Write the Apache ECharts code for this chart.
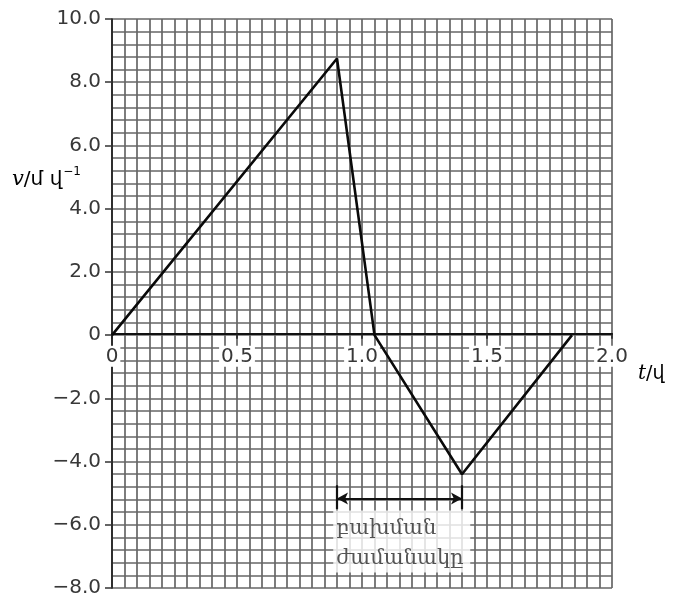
<!DOCTYPE html>
<html>
<head>
<meta charset="utf-8">
<script src="https://cdn.jsdelivr.net/npm/echarts@6/dist/echarts.min.js"></script>
<style>
html,body{margin:0;padding:0;background:#fff;}
#chart{width:681px;height:598px;}
</style>
</head>
<body>
<div id="chart"></div>
<script>
// Data
const tValues = [0, 0.9, 1.05, 1.4, 1.84];          // t / s
const vValues = [0, 8.75, 0, -4.4, 0];              // v / m s^-1
const xTickValues = [0, 0.5, 1.0, 1.5, 2.0];
const xTickLabels = ['0', '0.5', '1.0', '1.5', '2.0'];
const yTickValues = [10, 8, 6, 4, 2, 0, -2, -4, -6, -8];
const yTickLabels = ['10.0', '8.0', '6.0', '4.0', '2.0', '0', '\u22122.0', '\u22124.0', '\u22126.0', '\u22128.0'];
const intervalStart = [0.9];   // collision interval arrow
const intervalEnd = [1.4];
const arrowLevel = [-5.17];
const barTop = [-4.75];
const barBottom = [-5.5];
const noteAnchor = [0.885, -5.55];
const noteLines = ['\u0562\u0561\u056D\u0574\u0561\u0576', '\u056A\u0561\u0574\u0561\u0576\u0561\u056F\u0568']; // բախման / ժամանակը
const yName = ['v', '/\u0574 \u057E', '\u22121'];   // v/մ վ⁻¹
const xName = ['t', '/\u057E'];                      // t/վ

const gridColor = '#666';
const labelColor = '#383838';

const W = 681, H = 598;
const gridTop = 19, gridBottom = 7;
const yMin = -8, yMax = 10;
const plotH = H - gridTop - gridBottom;
const xAxisOffset = -plotH * (0 - yMin) / (yMax - yMin);

function lookup(vals, labels, v) {
  for (let i = 0; i < vals.length; i++) if (Math.abs(vals[i] - v) < 1e-6) return labels[i];
  return '';
}

const chart = echarts.init(document.getElementById('chart'), null, {renderer: 'canvas'});
const option = {
  animation: false,
  backgroundColor: '#fff',
  grid: {left: 112, right: 69, top: gridTop, bottom: gridBottom, containLabel: false},
  xAxis: {
    type: 'value', min: 0, max: 2, interval: 0.5,
    position: 'bottom', offset: xAxisOffset,
    axisLine: {show: true, onZero: false, lineStyle: {color: '#111', width: 2.2}},
    axisTick: {show: true, length: 5, lineStyle: {color: '#222', width: 1.5}},
    axisLabel: {
      show: true, margin: 12,
      formatter: v => lookup(xTickValues, xTickLabels, v),
      fontFamily: 'DejaVu Sans', fontSize: 20, color: labelColor,
      backgroundColor: '#fff', padding: [1, 2, 0, 2]
    },
    splitLine: {show: true, lineStyle: {color: gridColor, width: 1.7}},
    minorTick: {show: false, splitNumber: 10},
    minorSplitLine: {show: true, lineStyle: {color: gridColor, width: 1.7}}
  },
  yAxis: {
    type: 'value', min: yMin, max: yMax, interval: 2,
    axisLine: {show: true, onZero: false, lineStyle: {color: '#222', width: 1.7}},
    axisTick: {show: true, length: 7, lineStyle: {color: '#333', width: 1.5}},
    axisLabel: {
      show: true, margin: 11,
      formatter: v => lookup(yTickValues, yTickLabels, v),
      fontFamily: 'DejaVu Sans', fontSize: 20, color: labelColor
    },
    splitLine: {show: true, lineStyle: {color: gridColor, width: 1.7}},
    minorTick: {show: false, splitNumber: 5},
    minorSplitLine: {show: true, lineStyle: {color: gridColor, width: 1.7}}
  },
  series: [
    {
      type: 'line',
      data: tValues.map((t, i) => [t, vValues[i]]),
      showSymbol: false,
      lineStyle: {color: '#0a0a0a', width: 2.6},
      z: 5,
      markLine: {
        silent: true, symbol: 'none', animation: false,
        label: {show: false},
        lineStyle: {color: '#111', width: 2.2, type: 'solid'},
        data: [
          [{coord: [intervalStart[0], barTop[0]]}, {coord: [intervalStart[0], barBottom[0]]}],
          [{coord: [intervalEnd[0], barTop[0]]}, {coord: [intervalEnd[0], barBottom[0]]}]
        ]
      }
    },
    {
      type: 'scatter',
      data: [noteAnchor],
      symbolSize: 0,
      z: 6,
      label: {
        show: true,
        position: [0, 0],
        formatter: '{a|' + noteLines[0] + '}\n{a|' + noteLines[1] + '}',
        backgroundColor: '#fff',
        width: 130, height: 56,
        padding: [3, 4, 3, 3],
        rich: {
          a: {fontFamily: 'DejaVu Serif', fontSize: 21, lineHeight: 30, color: '#2a2a2a'}
        }
      },
      markLine: {
        silent: true, symbol: ['arrow', 'arrow'], symbolSize: [9, 11], animation: false,
        label: {show: false},
        lineStyle: {color: '#111', width: 1.8, type: 'solid'},
        data: [
          [{coord: [intervalStart[0], arrowLevel[0]]}, {coord: [intervalEnd[0], arrowLevel[0]]}]
        ]
      }
    }
  ],
  graphic: [
    {
      type: 'text', left: 12, top: 166,
      style: {
        text: '{it|' + yName[0] + '}{n|' + yName[1] + '}{sup|' + yName[2] + '}',
        rich: {
          it: {fontFamily: 'DejaVu Serif', fontStyle: 'italic', fontSize: 21, color: labelColor, verticalAlign: 'bottom'},
          n: {fontFamily: 'DejaVu Sans', fontSize: 20, color: labelColor, verticalAlign: 'bottom'},
          sup: {fontFamily: 'DejaVu Sans', fontSize: 12, color: labelColor, verticalAlign: 'top', padding: [0, 0, 12, 1]}
        }
      }
    },
    {
      type: 'text', left: 638, top: 364,
      style: {
        text: '{it|' + xName[0] + '}{n|' + xName[1] + '}',
        rich: {
          it: {fontFamily: 'DejaVu Serif', fontStyle: 'italic', fontSize: 20, color: labelColor},
          n: {fontFamily: 'DejaVu Sans', fontSize: 19, color: labelColor}
        }
      }
    }
  ]
};
chart.setOption(option);
</script>
</body>
</html>
